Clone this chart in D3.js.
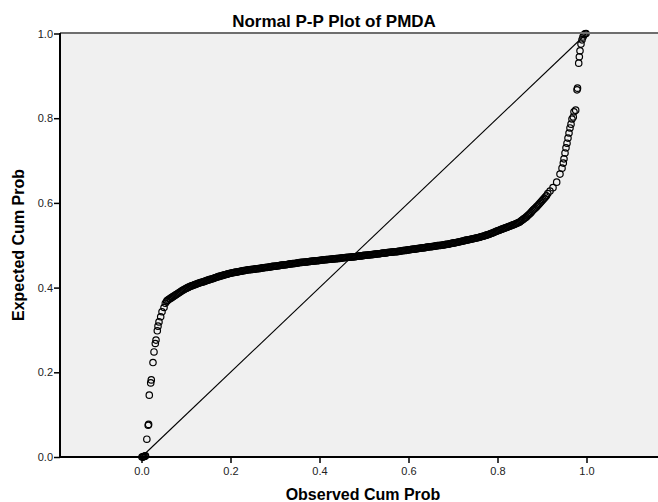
<!DOCTYPE html>
<html>
<head>
<meta charset="utf-8">
<script src="https://cdn.jsdelivr.net/npm/d3@7"></script>
<style>
  html, body { margin: 0; padding: 0; background: #fff; }
  text { font-family: Arial, "Liberation Sans", sans-serif; }
</style>
</head>
<body>
<div id="chart"></div>
<script>
// Normal P-P plot: [observed cum prob, expected cum prob]

const title = "Normal P-P Plot of PMDA";
const xLabel = "Observed Cum Prob";
const yLabel = "Expected Cum Prob";

const xTicks = [0.0, 0.2, 0.4, 0.6, 0.8, 1.0];
const yTicks = [0.0, 0.2, 0.4, 0.6, 0.8, 1.0];

// lower tail (steep part at left)
const lowerTail = [
  [0.001,0.000],[0.003,0.000],[0.004,0.001],[0.006,0.001],[0.008,0.002],[0.009,0.003],
  [0.012,0.042],[0.015,0.075],[0.016,0.077],[0.0175,0.146],[0.0207,0.175],[0.022,0.182],
  [0.0258,0.223],[0.0281,0.248],[0.031,0.268],[0.0326,0.276],[0.0355,0.298],[0.0371,0.309],
  [0.0393,0.319],[0.0431,0.331],[0.0461,0.343],[0.0506,0.353],[0.0535,0.363],[0.0565,0.367]
];

// the dense middle band
const band = [
  [0.0575,0.3695],[0.0600,0.371],[0.0625,0.3728],[0.0650,0.3745],[0.0675,0.3763],[0.0700,0.378],
  [0.0725,0.3798],[0.0750,0.3815],[0.0775,0.3833],[0.0800,0.385],[0.0825,0.3868],[0.0850,0.3885],
  [0.0875,0.3903],[0.0900,0.392],[0.0925,0.3935],[0.0950,0.395],[0.0975,0.3965],[0.1000,0.398],
  [0.1025,0.3993],[0.1050,0.4005],[0.1075,0.4018],[0.1100,0.403],[0.1125,0.404],[0.1150,0.405],
  [0.1175,0.406],[0.1200,0.407],[0.1225,0.408],[0.1250,0.409],[0.1275,0.410],[0.1300,0.411],
  [0.1325,0.4118],[0.1350,0.4125],[0.1375,0.4133],[0.1400,0.414],[0.1425,0.415],[0.1450,0.416],
  [0.1475,0.417],[0.1500,0.418],[0.1525,0.4188],[0.1550,0.4195],[0.1575,0.4203],[0.1600,0.421],
  [0.1625,0.422],[0.1650,0.423],[0.1675,0.424],[0.1700,0.425],[0.1725,0.4258],[0.1750,0.4265],
  [0.1775,0.4273],[0.1800,0.428],[0.1825,0.4288],[0.1850,0.4295],[0.1875,0.4303],[0.1900,0.431],
  [0.1925,0.4318],[0.1950,0.4325],[0.1975,0.4333],[0.2000,0.434],[0.2025,0.4345],[0.2050,0.435],
  [0.2075,0.4355],[0.2100,0.436],[0.2125,0.4365],[0.2150,0.437],[0.2175,0.4375],[0.2200,0.438],
  [0.2225,0.4385],[0.2250,0.439],[0.2275,0.4395],[0.2300,0.440],[0.2325,0.4405],[0.2350,0.441],
  [0.2375,0.4415],[0.2400,0.442],[0.2425,0.4423],[0.2450,0.4425],[0.2475,0.4428],[0.2500,0.443],
  [0.2525,0.4435],[0.2550,0.444],[0.2575,0.4443],[0.2600,0.4445],[0.2625,0.4448],[0.2650,0.445],
  [0.2675,0.4455],[0.2700,0.446],[0.2725,0.4465],[0.2750,0.447],[0.2775,0.4473],[0.2800,0.4475],
  [0.2825,0.4478],[0.2850,0.448],[0.2875,0.4485],[0.2900,0.449],[0.2925,0.4495],[0.2950,0.450],
  [0.2975,0.4503],[0.3000,0.4505],[0.3025,0.4508],[0.3050,0.451],[0.3075,0.4515],[0.3100,0.452],
  [0.3125,0.4525],[0.3150,0.453],[0.3175,0.4533],[0.3200,0.4535],[0.3225,0.4538],[0.3250,0.454],
  [0.3275,0.4545],[0.3300,0.455],[0.3325,0.4555],[0.3350,0.456],[0.3375,0.4563],[0.3400,0.4565],
  [0.3425,0.4568],[0.3450,0.457],[0.3475,0.4575],[0.3500,0.458],[0.3525,0.4585],[0.3550,0.459],
  [0.3575,0.4593],[0.3600,0.4595],[0.3625,0.4598],[0.3650,0.460],[0.3675,0.4603],[0.3700,0.4605],
  [0.3725,0.4608],[0.3750,0.461],[0.3775,0.4615],[0.3800,0.462],[0.3825,0.4623],[0.3850,0.4625],
  [0.3875,0.4628],[0.3900,0.463],[0.3925,0.4633],[0.3950,0.4635],[0.3975,0.4638],[0.4000,0.464],
  [0.4025,0.4645],[0.4050,0.465],[0.4075,0.4653],[0.4100,0.4655],[0.4125,0.4658],[0.4150,0.466],
  [0.4175,0.4663],[0.4200,0.4665],[0.4225,0.4668],[0.4250,0.467],[0.4275,0.4673],[0.4300,0.4675],
  [0.4325,0.4678],[0.4350,0.468],[0.4375,0.4683],[0.4400,0.4685],[0.4425,0.4688],[0.4450,0.469],
  [0.4475,0.4695],[0.4500,0.470],[0.4525,0.4703],[0.4550,0.4705],[0.4575,0.4708],[0.4600,0.471],
  [0.4625,0.4713],[0.4650,0.4715],[0.4675,0.4718],[0.4700,0.472],[0.4725,0.4723],[0.4750,0.4725],
  [0.4775,0.4728],[0.4800,0.473],[0.4825,0.4735],[0.4850,0.474],[0.4875,0.4743],[0.4900,0.4745],
  [0.4925,0.4748],[0.4950,0.475],[0.4975,0.4755],[0.5000,0.476],[0.5025,0.4763],[0.5050,0.4765],
  [0.5075,0.4768],[0.5100,0.477],[0.5125,0.4773],[0.5150,0.4775],[0.5175,0.4778],[0.5200,0.478],
  [0.5225,0.4785],[0.5250,0.479],[0.5275,0.4793],[0.5300,0.4795],[0.5325,0.4798],[0.5350,0.480],
  [0.5375,0.4805],[0.5400,0.481],[0.5425,0.4813],[0.5450,0.4815],[0.5475,0.4818],[0.5500,0.482],
  [0.5525,0.4825],[0.5550,0.483],[0.5575,0.4833],[0.5600,0.4835],[0.5625,0.4838],[0.5650,0.484],
  [0.5675,0.4843],[0.5700,0.4845],[0.5725,0.4848],[0.5750,0.485],[0.5775,0.4855],[0.5800,0.486],
  [0.5825,0.4865],[0.5850,0.487],[0.5875,0.4873],[0.5900,0.4875],[0.5925,0.4878],[0.5950,0.488],
  [0.5975,0.4885],[0.6000,0.489],[0.6025,0.4895],[0.6050,0.490],[0.6075,0.4903],[0.6100,0.4905],
  [0.6125,0.4908],[0.6150,0.491],[0.6175,0.4915],[0.6200,0.492],[0.6225,0.4925],[0.6250,0.493],
  [0.6275,0.4933],[0.6300,0.4935],[0.6325,0.4938],[0.6350,0.494],[0.6375,0.4945],[0.6400,0.495],
  [0.6425,0.4955],[0.6450,0.496],[0.6475,0.4963],[0.6500,0.4965],[0.6525,0.4968],[0.6550,0.497],
  [0.6575,0.4975],[0.6600,0.498],[0.6625,0.4985],[0.6650,0.499],[0.6675,0.4993],[0.6700,0.4995],
  [0.6725,0.4998],[0.6750,0.500],[0.6775,0.5005],[0.6800,0.501],[0.6825,0.5015],[0.6850,0.502],
  [0.6875,0.5023],[0.6900,0.5025],[0.6925,0.5033],[0.6950,0.504],[0.6975,0.5045],[0.7000,0.505],
  [0.7025,0.5055],[0.7050,0.506],[0.7075,0.5065],[0.7100,0.507],[0.7125,0.5076],[0.7150,0.5083],
  [0.7175,0.5089],[0.7200,0.5095],[0.7225,0.5101],[0.7250,0.5108],[0.7275,0.5114],[0.7300,0.512],
  [0.7325,0.5125],[0.7350,0.513],[0.7375,0.5135],[0.7400,0.514],[0.7425,0.5146],[0.7450,0.5153],
  [0.7475,0.5159],[0.7500,0.5165],[0.7525,0.5171],[0.7550,0.5178],[0.7575,0.5184],[0.7600,0.519],
  [0.7625,0.5198],[0.7650,0.5205],[0.7675,0.5213],[0.7700,0.522],[0.7725,0.5229],[0.7750,0.5238],
  [0.7775,0.5246],[0.7800,0.5255],[0.7825,0.5265],[0.7850,0.5275],[0.7875,0.5285],[0.7900,0.5295],
  [0.7925,0.5306],[0.7950,0.5318],[0.7975,0.5329],[0.8000,0.534],[0.8025,0.535],[0.8050,0.536],
  [0.8075,0.537],[0.8100,0.538],[0.8125,0.539],[0.8150,0.540],[0.8175,0.541],[0.8200,0.542],
  [0.8225,0.543],[0.8250,0.544],[0.8275,0.545],[0.8300,0.546],[0.8325,0.547],[0.8350,0.548],
  [0.8375,0.549],[0.8400,0.550],[0.8425,0.5513],[0.8450,0.5525],[0.8475,0.5538],[0.8500,0.555],
  [0.8525,0.557],[0.8550,0.559],[0.8575,0.561],[0.8600,0.563],[0.8625,0.565],[0.8650,0.567],
  [0.8675,0.5695],[0.8700,0.572],[0.8725,0.5745],[0.8750,0.577],[0.8775,0.580],[0.8800,0.583],
  [0.8825,0.5855],[0.8850,0.588],[0.8875,0.5905],[0.8900,0.593],[0.8925,0.596],[0.8950,0.599],
  [0.8975,0.602],[0.9000,0.605],[0.9025,0.608],[0.9050,0.611],[0.9075,0.614],[0.9100,0.617]
];

// upper tail (steep part at right)
const upperTail = [
  [0.913,0.622],[0.918,0.628],[0.9247,0.636],[0.933,0.649],[0.9404,0.668],[0.945,0.682],
  [0.9479,0.694],[0.9494,0.704],[0.9517,0.718],[0.9539,0.730],[0.9562,0.741],[0.9584,0.753],
  [0.9607,0.765],[0.9629,0.777],[0.9652,0.786],[0.9674,0.798],[0.9703,0.803],[0.9719,0.815],
  [0.9757,0.819],[0.9787,0.867],[0.9798,0.871],[0.9825,0.930],[0.9839,0.945],[0.9854,0.959],
  [0.9876,0.975],[0.9899,0.985],[0.9921,0.992],[0.9944,0.997],[0.9966,0.999],[0.9989,1.000]
];

const points = lowerTail.concat(band, upperTail);

const W = 658, H = 502;
const plot = { left: 60, right: 658, top: 33, bottom: 457 };

const x = d3.scaleLinear().domain([0, 1]).range([141.5, 586.5]);
const y = d3.scaleLinear().domain([0, 1]).range([457, 33.5]);

const svg = d3.select("#chart").append("svg")
  .attr("width", W).attr("height", H);

svg.append("rect")
  .attr("x", plot.left).attr("y", plot.top)
  .attr("width", plot.right - plot.left).attr("height", plot.bottom - plot.top)
  .attr("fill", "#f0f0f0");

const g = svg.append("g");

// reference diagonal
g.append("line")
  .attr("x1", x(0)).attr("y1", y(0))
  .attr("x2", x(1)).attr("y2", y(1))
  .attr("stroke", "#000").attr("stroke-width", 1.1);

g.selectAll("circle.pt").data(points).enter().append("circle")
  .attr("class", "pt")
  .attr("cx", d => x(d[0]))
  .attr("cy", d => y(d[1]))
  .attr("r", 3.2)
  .attr("fill", "none")
  .attr("stroke", "#000")
  .attr("stroke-width", 1.2);

// top frame line
svg.append("line")
  .attr("x1", plot.left).attr("x2", plot.right)
  .attr("y1", plot.top).attr("y2", plot.top)
  .attr("stroke", "#6e6e6e").attr("stroke-width", 2);

// axes
const xAxis = d3.axisBottom(x).tickValues(xTicks).tickFormat(d3.format(".1f"))
  .tickSize(6).tickSizeOuter(0);
const yAxis = d3.axisLeft(y).tickValues(yTicks).tickFormat(d3.format(".1f"))
  .tickSize(6).tickSizeOuter(0);

const gx = svg.append("g").attr("transform", "translate(0," + plot.bottom + ")").call(xAxis);
gx.select(".domain").attr("d", "M" + plot.left + ",0H" + plot.right).attr("stroke-width", 2);
gx.selectAll(".tick line").attr("stroke-width", 1.5);
gx.selectAll("text").attr("font-size", 11).attr("fill", "#222").attr("dy", "0.85em");

const gy = svg.append("g").attr("transform", "translate(" + plot.left + ",0)").call(yAxis);
gy.select(".domain").attr("d", "M0," + plot.top + "V" + plot.bottom).attr("stroke-width", 2);
gy.selectAll(".tick line").attr("stroke-width", 1.5);
gy.selectAll("text").attr("font-size", 11).attr("fill", "#222").attr("x", -7);

// titles
svg.append("text")
  .attr("x", 334).attr("y", 26.5)
  .attr("text-anchor", "middle")
  .attr("font-size", 17).attr("font-weight", "bold")
  .text(title);

svg.append("text")
  .attr("x", 363).attr("y", 500)
  .attr("text-anchor", "middle")
  .attr("font-size", 16).attr("font-weight", "bold")
  .text(xLabel);

svg.append("text")
  .attr("transform", "translate(23.5,245) rotate(-90)")
  .attr("text-anchor", "middle")
  .attr("font-size", 16).attr("font-weight", "bold")
  .text(yLabel);
</script>
</body>
</html>
